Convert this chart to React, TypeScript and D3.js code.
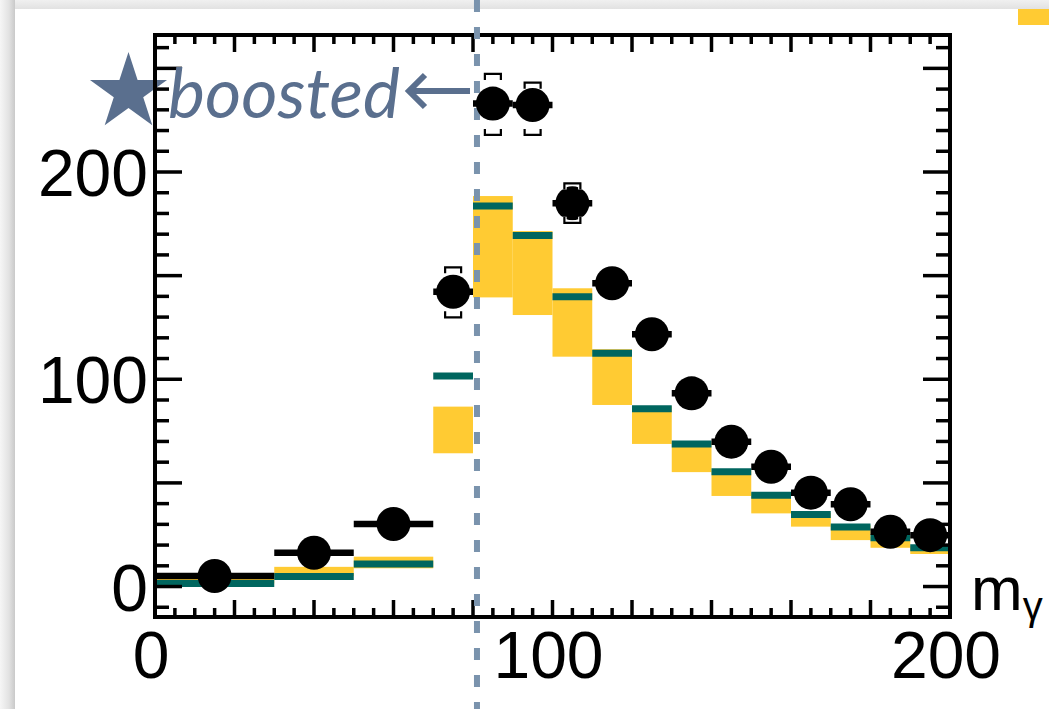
import React from 'react';
import * as d3 from 'd3';

// ---- data ----
const binEdges = [0, 30, 50, 70, 80, 90, 100, 110, 120, 130, 140, 150, 160, 170, 180, 190, 200];
const predCentral = [1.5, 4.9, 10.9, 101.6, 183.6, 169.4, 139.8, 112.5, 85.8, 68.8, 55.4, 44.1, 34.8, 28.7, 23.5, 18.7];
const bandLow = [1.5, 5.0, 8.8, 64.3, 139.5, 131.0, 110.9, 87.6, 68.8, 55.2, 43.7, 35.3, 28.9, 22.4, 18.7, 15.7];
const bandHigh = [4.0, 9.5, 14.4, 86.8, 188.4, 171.5, 143.9, 114.5, 87.0, 69.5, 56.0, 45.0, 35.5, 29.5, 24.0, 19.5];
const dataValues = [5.1, 16.3, 30.2, 142.2, 233.0, 232.3, 184.9, 146.3, 121.7, 93.2, 69.9, 57.8, 45.3, 39.7, 26.4, 24.8];
const systHigh: (number | null)[] = [null, null, null, 154.0, 247.3, 243.1, 194.5, null, null, null, null, null, null, null, null, null];
const systLow: (number | null)[] = [null, null, null, 129.9, 217.9, 217.9, 175.5, null, null, null, null, null, null, null, null, null];
const xTickLabels = [0, 100, 200];
const yTickLabels = [0, 100, 200];
const boostedCut = 81;
const annotationText = 'boosted';
const axisTitleMain = 'm';
const axisTitleSub = 'γ';

const W = 1049;
const H = 709;
const YELLOW = '#ffcb33';
const TEAL = '#00665f';
const SLATE = '#5a6f8e';
const DASH = '#7a93ad';

export default function App() {
  const x = d3.scaleLinear().domain([0, 200]).range([155, 950]);
  const y = d3.scaleLinear().domain([-14.7, 266.1]).range([617, 35]);
  const [x0, x1] = x.range();
  const [yb, yt] = y.range();

  const xMajor = d3.range(0, 201, 20);
  const xMinor = d3.range(0, 201, 5).filter((v) => v % 20 !== 0);
  const yMajor = d3.range(0, 266, 50);
  const yMinor = d3.range(-10, 266, 10).filter((v) => v % 50 !== 0);

  const bins = predCentral.map((c, i) => ({
    lo: binEdges[i],
    hi: binEdges[i + 1],
    c,
    bl: bandLow[i],
    bh: bandHigh[i],
    d: dataValues[i],
    sh: systHigh[i],
    sl: systLow[i],
  }));

  // star
  const sx = 128.5, sy = 92.5, R = 40.5, r = R * 0.382;
  const starPts = d3.range(10).map((k) => {
    const a = -Math.PI / 2 + (k * Math.PI) / 5;
    const rad = k % 2 === 0 ? R : r;
    return [sx + rad * Math.cos(a), sy + rad * Math.sin(a)];
  });
  const starPath = d3.line()(starPts as [number, number][]) + 'Z';

  const tickStroke = 3.5;
  const fontFam = '"Liberation Sans", Arial, Helvetica, sans-serif';

  return (
    <svg width={W} height={H} style={{ position: 'absolute', left: 0, top: 0, display: 'block' }}>
      <defs>
        <linearGradient id="lsh" x1="0" x2="1" y1="0" y2="0">
          <stop offset="0" stopColor="#f6f6f6" />
          <stop offset="0.6" stopColor="#e2e2e2" />
          <stop offset="1" stopColor="#c9c9c9" />
        </linearGradient>
        <linearGradient id="tsh" x1="0" x2="0" y1="0" y2="1">
          <stop offset="0" stopColor="#f0f0f0" />
          <stop offset="1" stopColor="#e2e2e2" />
        </linearGradient>
      </defs>
      {/* slide background with shadow */}
      <rect x={0} y={0} width={W} height={H} fill="#f2f2f2" />
      <rect x={0} y={0} width={W} height={9} fill="url(#tsh)" />
      <rect x={0} y={0} width={15} height={H} fill="url(#lsh)" />
      <rect x={15} y={9} width={W - 15} height={H - 9} fill="#ffffff" />
      {/* partial legend patch at top right */}
      <rect x={1018} y={9} width={31} height={16} fill={YELLOW} />

      {/* uncertainty band */}
      {bins.map((b, i) => (
        <rect key={'band' + i} x={x(b.lo)} y={y(b.bh)} width={x(b.hi) - x(b.lo)} height={y(b.bl) - y(b.bh)} fill={YELLOW} />
      ))}
      {/* central prediction */}
      {bins.map((b, i) => (
        <line key={'pc' + i} x1={x(b.lo)} x2={x(b.hi)} y1={y(b.c)} y2={y(b.c)} stroke={TEAL} strokeWidth={7} />
      ))}

      {/* star (under frame) */}
      <path d={starPath} fill={SLATE} />

      {/* frame */}
      <rect x={x0} y={yt} width={x1 - x0} height={yb - yt} fill="none" stroke="#000" strokeWidth={4} />
      {/* x ticks bottom & top */}
      {xMajor.map((v) => (
        <g key={'xM' + v}>
          <line x1={x(v)} x2={x(v)} y1={yb} y2={yb - 17} stroke="#000" strokeWidth={tickStroke} />
          <line x1={x(v)} x2={x(v)} y1={yt} y2={yt + 17} stroke="#000" strokeWidth={tickStroke} />
        </g>
      ))}
      {xMinor.map((v) => (
        <g key={'xm' + v}>
          <line x1={x(v)} x2={x(v)} y1={yb} y2={yb - 9} stroke="#000" strokeWidth={tickStroke} />
          <line x1={x(v)} x2={x(v)} y1={yt} y2={yt + 9} stroke="#000" strokeWidth={tickStroke} />
        </g>
      ))}
      {/* y ticks left & right */}
      {yMajor.map((v) => (
        <g key={'yM' + v}>
          <line x1={x0} x2={x0 + 27} y1={y(v)} y2={y(v)} stroke="#000" strokeWidth={tickStroke} />
          <line x1={x1} x2={x1 - 27} y1={y(v)} y2={y(v)} stroke="#000" strokeWidth={tickStroke} />
        </g>
      ))}
      {yMinor.map((v) => (
        <g key={'ym' + v}>
          <line x1={x0} x2={x0 + 14} y1={y(v)} y2={y(v)} stroke="#000" strokeWidth={tickStroke} />
          <line x1={x1} x2={x1 - 14} y1={y(v)} y2={y(v)} stroke="#000" strokeWidth={tickStroke} />
        </g>
      ))}
      {/* tick labels */}
      {xTickLabels.map((v) => (
        <text key={'xl' + v} x={x(v) - 4} y={678} textAnchor="middle" fontFamily={fontFam} fontSize={66} fill="#000">
          {v}
        </text>
      ))}
      {yTickLabels.map((v) => (
        <text key={'yl' + v} x={148} y={y(v) + 24} textAnchor="end" fontFamily={fontFam} fontSize={66} fill="#000">
          {v}
        </text>
      ))}
      {/* axis title */}
      <text x={971} y={610} fontFamily={fontFam} fontSize={62} fill="#000">
        {axisTitleMain}
        <tspan fontSize={40} dy={10}>{axisTitleSub}</tspan>
      </text>

      {/* boosted cut line */}
      <line x1={x(boostedCut)} x2={x(boostedCut)} y1={0} y2={H} stroke={DASH} strokeWidth={6} strokeDasharray="12 15" />

      {/* annotation */}
      <text x={168} y={118} fontFamily="Lato, 'Open Sans', sans-serif" fontStyle="italic" fontSize={70} fill={SLATE} textLength={232} lengthAdjust="spacingAndGlyphs">
        {annotationText}
      </text>
      <line x1={470} x2={412} y1={91} y2={91} stroke={SLATE} strokeWidth={6} />
      <polyline points="425,75 409,91 425,107" fill="none" stroke={SLATE} strokeWidth={6} strokeLinejoin="miter" />

      {/* data: horizontal bars */}
      {bins.map((b, i) => (
        <line key={'he' + i} x1={x(b.lo)} x2={x(b.hi)} y1={y(b.d)} y2={y(b.d)} stroke="#000" strokeWidth={6.5} />
      ))}
      {bins.map((b, i) => (
        <circle key={'pt' + i} cx={x((b.lo + b.hi) / 2)} cy={y(b.d)} r={17} fill="#000" />
      ))}
      {/* systematic brackets */}
      {bins.map((b, i) => {
        if (b.sh == null || b.sl == null) return null;
        const cx = x((b.lo + b.hi) / 2);
        const top = y(b.sh);
        const bot = y(b.sl);
        const dTop = `M${cx - 8},${top + 6}V${top}H${cx + 8}V${top + 6}`;
        const dBot = `M${cx - 8},${bot - 6}V${bot}H${cx + 8}V${bot - 6}`;
        return (
          <g key={'sy' + i} fill="none">
            <path d={dTop} stroke="#fff" strokeWidth={4.5} />
            <path d={dBot} stroke="#fff" strokeWidth={4.5} />
            <path d={dTop} stroke="#000" strokeWidth={2.2} />
            <path d={dBot} stroke="#000" strokeWidth={2.2} />
          </g>
        );
      })}
    </svg>
  );
}
